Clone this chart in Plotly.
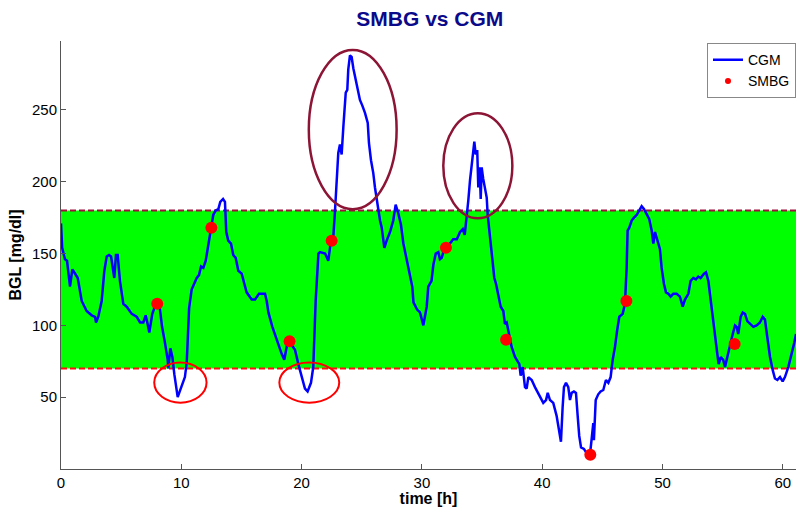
import plotly.graph_objects as go

# CGM sensor trace: time [h] and blood glucose [mg/dl]
cgm_hours = [
    0.0, 0.1, 0.33, 0.5, 0.75, 0.94, 1.1, 1.39, 1.72, 2.13, 2.55, 2.83, 2.91, 3.1, 3.38,
    3.6, 3.8, 3.99, 4.16, 4.27, 4.43, 4.57, 4.71, 4.9, 5.18, 5.46, 5.88, 6.29, 6.57, 6.84,
    7.04, 7.2, 7.34, 7.59, 7.8, 8.2, 8.4, 8.64, 8.87, 8.92, 9.09, 9.26, 9.42, 9.7, 9.89,
    10.17, 10.3, 10.45, 10.65, 10.86, 11.28, 11.47, 11.64, 11.83, 12.03, 12.3, 12.53, 12.66,
    12.86, 13.08, 13.24, 13.47, 13.63, 13.74, 13.9, 14.13, 14.32, 14.52, 14.74, 15.02, 15.24,
    15.43, 15.85, 16.13, 16.46, 16.96, 17.1, 17.24, 17.57, 17.93, 18.35, 18.56, 18.76, 18.95,
    19.45, 19.73, 20.0, 20.28, 20.5, 20.78, 20.97, 21.17, 21.4, 21.53, 21.95, 22.22, 22.44,
    22.63, 22.78, 22.92, 23.05, 23.19, 23.33, 23.47, 23.6, 23.67, 23.8, 23.88, 24.02, 24.16,
    24.3, 24.44, 24.66, 24.85, 25.05, 25.27, 25.5, 25.6, 25.77, 25.96, 26.1, 26.33, 26.52,
    26.66, 26.88, 27.07, 27.35, 27.62, 27.82, 28.04, 28.26, 28.46, 28.74, 29.01, 29.2, 29.3,
    29.6, 29.84, 30.05, 30.12, 30.25, 30.4, 30.53, 30.8, 30.95, 31.15, 31.37, 31.5, 31.65,
    31.78, 32.06, 32.34, 32.6, 32.9, 33.17, 33.4, 33.56, 33.72, 33.86, 34.0, 34.14, 34.27,
    34.36, 34.47, 34.6, 34.69, 34.8, 34.89, 34.97, 35.1, 35.25, 35.39, 35.47, 35.6, 35.74,
    35.89, 36.02, 36.16, 36.35, 36.55, 36.77, 36.9, 37.05, 37.27, 37.46, 37.74, 38.1, 38.21,
    38.38, 38.57, 38.71, 38.85, 39.13, 39.4, 39.82, 40.09, 40.32, 40.46, 40.65, 40.92, 41.2,
    41.42, 41.56, 41.7, 41.81, 41.98, 42.17, 42.31, 42.45, 42.64, 42.81, 42.95, 43.08, 43.23,
    43.47, 43.7, 43.97, 44.1, 44.25, 44.3, 44.45, 44.66, 44.86, 45.08, 45.3, 45.5, 45.69,
    45.86, 46.05, 46.24, 46.41, 46.69, 46.88, 47.02, 47.1, 47.24, 47.44, 47.63, 47.86, 48.07,
    48.27, 48.46, 48.69, 48.9, 49.1, 49.24, 49.38, 49.57, 49.79, 49.93, 50.12, 50.29, 50.48,
    50.68, 50.9, 51.18, 51.45, 51.68, 51.87, 52.15, 52.34, 52.56, 52.78, 52.98, 53.17, 53.45,
    53.62, 53.81, 54.01, 54.17, 54.36, 54.56, 54.67, 54.84, 55.05, 55.2, 55.39, 55.61, 55.84,
    56.03, 56.17, 56.3, 56.5, 56.67, 56.86, 57.05, 57.27, 57.55, 57.83, 58.1, 58.33, 58.52,
    58.71, 58.94, 59.16, 59.35, 59.55, 59.77, 59.99, 60.18, 60.46, 60.74, 60.96, 61.1,
]
cgm_values = [
    171, 154, 146, 145, 127, 139, 137, 133, 117, 110, 107, 106, 102, 106, 117,
    138, 148, 149, 148, 142, 133, 149, 149, 131, 115, 113, 108, 106, 102, 102,
    107, 101, 95, 108, 113, 113, 99, 88, 76, 70, 84, 78, 66, 50, 55,
    61, 64, 74, 112, 125, 133, 135, 141, 140, 145, 159, 168, 177,
    180, 181, 186, 188, 186, 165, 159, 157, 149, 147, 138, 136, 129,
    123, 118, 118, 122, 122, 117, 109, 99, 90, 80, 76, 85, 89,
    83, 73, 64, 56, 54, 60, 71, 117, 150, 151, 150, 145, 159,
    161, 180, 206, 220, 226, 219, 238, 252, 262, 264, 278, 288, 287,
    279, 273, 264, 257, 253, 248, 241, 227, 215, 206, 196, 182, 173,
    168, 154, 159, 165, 173, 184, 178, 170, 157, 145, 133, 127, 116,
    111, 109, 102, 100, 106, 113, 127, 131, 142, 150, 151, 146, 147,
    151, 152, 157, 160, 160, 165, 167, 163, 174, 187, 201, 212, 224,
    228, 219, 222, 196, 210, 188, 210, 202, 196, 189, 177, 166, 154,
    140, 133, 129, 120, 113, 110, 101, 102, 94, 85, 78, 73, 65,
    71, 57, 56, 64, 62, 57, 50, 46, 48, 53, 48, 46, 37,
    27, 19, 43, 57, 60, 57, 48, 53, 54, 53, 37, 23, 15,
    14, 11, 10, 20, 32, 20, 48, 52, 54, 55, 62, 60, 64,
    76, 85, 97, 106, 108, 115, 140, 166, 168, 173, 175, 177, 180,
    183, 181, 177, 174, 166, 157, 165, 159, 153, 140, 129, 123, 122,
    120, 122, 122, 120, 113, 118, 122, 131, 133, 132, 134, 133, 136,
    137, 131, 117, 103, 90, 80, 73, 78, 76, 71, 78, 87, 94,
    100, 99, 94, 106, 109, 108, 103, 101, 99, 100, 102, 106, 104,
    92, 78, 69, 63, 62, 64, 61, 64, 71, 80, 88, 94,
]

# Self-monitored finger-stick readings
smbg_hours = [8, 12.5, 19, 22.5, 32, 37, 44, 47, 56]
smbg_values = [115, 168, 89, 159, 154, 90, 10, 117, 87]

# Target range [mg/dl]
target_low = 70
target_high = 180

x_end = 61.1
y_top = 298

# Highlighted excursions (x0, x1, y0, y1) in data units
hypo_marks = [(7.75, 12.1, 46.2, 74.1), (18.15, 23.13, 46.2, 74.1)]
hyper_marks = [(20.6, 27.9, 180.9, 291.8), (31.78, 37.52, 174.6, 247.7)]

FONT = "Liberation Sans, Arial, sans-serif"

fig = go.Figure()

fig.add_trace(go.Scatter(
    x=cgm_hours, y=cgm_values, mode="lines", name="CGM",
    line=dict(color="#0000FF", width=2.5),
))
fig.add_trace(go.Scatter(
    x=smbg_hours, y=smbg_values, mode="markers", name="SMBG", showlegend=False,
    marker=dict(color="#FF0000", size=12),
))
# legend entry with a small dot
fig.add_trace(go.Scatter(
    x=[None], y=[None], mode="markers", name="SMBG",
    marker=dict(color="#FF0000", size=6),
))

shapes = [
    dict(type="rect", xref="x", yref="y", x0=0, x1=x_end, y0=target_low, y1=target_high,
         fillcolor="#00FF00", line=dict(width=0), layer="below"),
    dict(type="line", xref="x", yref="y", x0=0, x1=x_end, y0=target_high, y1=target_high,
         line=dict(color="#A0103C", width=2, dash="6px,3px"), layer="below"),
    dict(type="line", xref="x", yref="y", x0=0, x1=x_end, y0=target_low, y1=target_low,
         line=dict(color="#FF1010", width=2, dash="6px,3px"), layer="below"),
]
for x0, x1, y0, y1 in hypo_marks:
    shapes.append(dict(type="circle", xref="x", yref="y", x0=x0, x1=x1, y0=y0, y1=y1,
                       line=dict(color="#FF0000", width=2)))
for x0, x1, y0, y1 in hyper_marks:
    shapes.append(dict(type="circle", xref="x", yref="y", x0=x0, x1=x1, y0=y0, y1=y1,
                       line=dict(color="#8C1435", width=2.5)))

fig.update_layout(
    width=796, height=507,
    margin=dict(l=61, r=0, t=41, b=38),
    paper_bgcolor="white", plot_bgcolor="white",
    font=dict(family=FONT, size=15, color="black"),
    title=dict(text="<b>SMBG vs CGM</b>", x=0.54, xanchor="center", y=0.963, yanchor="middle",
               font=dict(family=FONT, size=21, color="#0A0A8A")),
    shapes=shapes,
    showlegend=True,
    legend=dict(x=1, xanchor="right", y=0.995, yanchor="top",
                bgcolor="white", bordercolor="#888888", borderwidth=1,
                font=dict(family=FONT, size=14, color="black"),
                itemwidth=30, tracegroupgap=0),
    xaxis=dict(range=[0, x_end], tickvals=[0, 10, 20, 30, 40, 50, 60],
               showgrid=False, zeroline=False, showline=True, linecolor="#555555", linewidth=1,
               ticks="inside", ticklen=5, tickcolor="#555555",
               title=dict(text="<b>time [h]</b>", font=dict(family=FONT, size=16), standoff=6)),
    yaxis=dict(range=[0, y_top], tickvals=[50, 100, 150, 200, 250],
               showgrid=False, zeroline=False, showline=True, linecolor="#555555", linewidth=1,
               ticks="inside", ticklen=5, tickcolor="#555555",
               title=dict(text="<b>BGL [mg/dl]</b>", font=dict(family=FONT, size=16), standoff=6)),
)

fig.write_html("out.html")
